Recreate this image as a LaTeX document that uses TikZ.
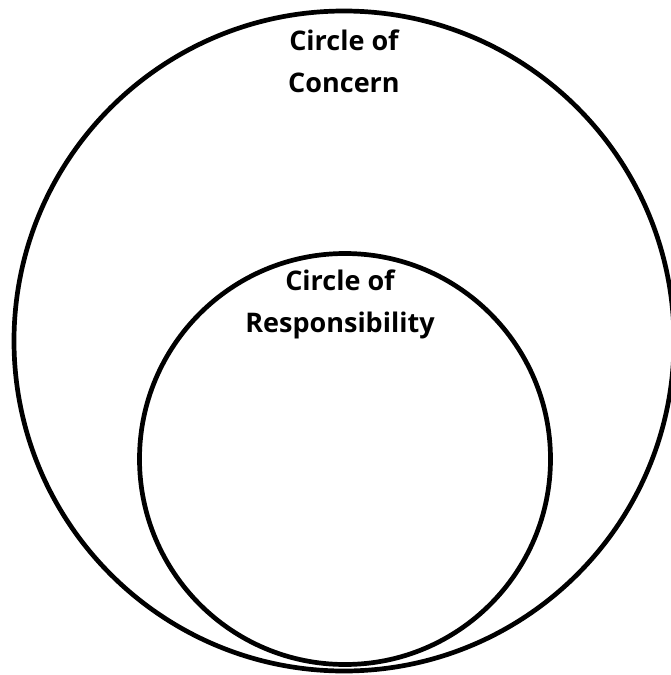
\documentclass[tikz,border=0pt]{standalone}
\usepackage{fontspec}
\setmainfont{Open Sans}
\begin{document}
\begin{tikzpicture}[x=1pt,y=-1pt,
  ring/.style={draw=black,line width=4.7pt},
  caption/.style={font=\bfseries\fontsize{27}{42}\selectfont,align=center,inner sep=0pt,anchor=base}]
  \useasboundingbox (0,0) rectangle (671,675);
  \clip (0,0) rectangle (671,675);
  % outer and inner rings
  \node[ring,circle,minimum size=660pt,inner sep=0pt] (concern) at (344,341) {};
  \node[ring,circle,minimum size=411pt,inner sep=0pt] (resp) at (345,459) {};
  % labels (anchored at the baseline of the last line)
  \node[caption] (concernlabel) at (344,92) {Circle of\\Concern};
  \node[caption] (resplabel) at (340,332) {Circle of\\Responsibility};
\end{tikzpicture}
\end{document}
